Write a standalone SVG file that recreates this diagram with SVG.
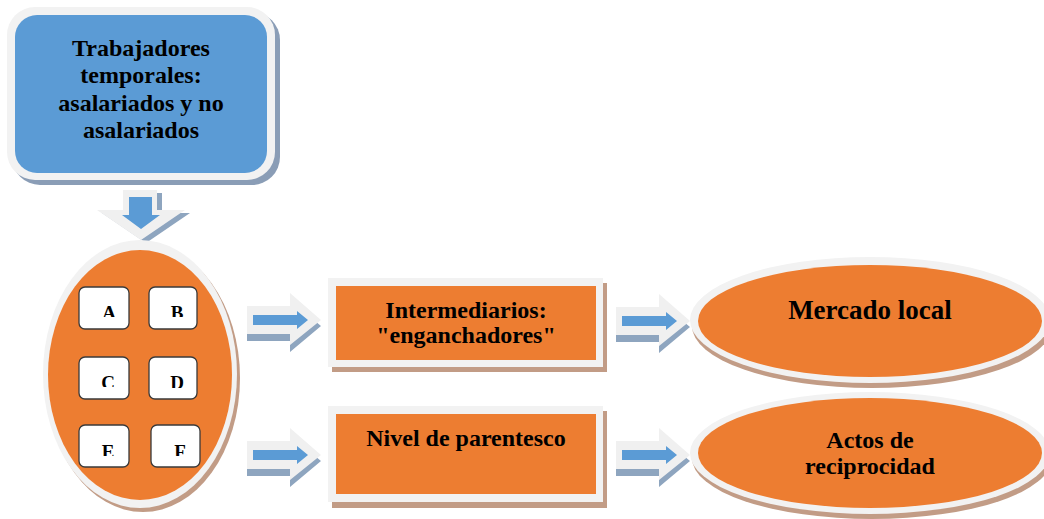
<svg xmlns="http://www.w3.org/2000/svg" width="1044" height="519" viewBox="0 0 1044 519">
<style>
.t{font-family:"Liberation Serif","Times New Roman",serif;font-weight:bold;fill:#000;text-anchor:middle}
.rim{fill:#f2f2f2}
.sb{fill:#8a9db6}
.so{fill:#c29c86}
.blue{fill:#5b9bd5}
.or{fill:#ed7d31}
.sq{fill:#fff;stroke:#3a3a3a;stroke-width:1.3}
.ar{fill:#5b9bd5}
.aw{fill:#f0f0f0}
.as{fill:#8ea5bf}
</style>
<defs>
<g id="rarrow">
<polygon class="as" points="0,-7 43,-7 43,-20 74,6 43,32 43,21 0,21"/>
<polygon class="aw" points="0,-14 43,-14 43,-27 74,0 43,25 43,14 0,14"/>
<polygon class="ar" points="6,-5 50,-5 50,-9 61,0 50,9 50,5 6,5"/>
</g>
<clipPath id="cA"><rect x="79" y="287" width="50" height="30"/></clipPath>
<clipPath id="cB"><rect x="149" y="287" width="48" height="30"/></clipPath>
<clipPath id="cC"><rect x="79" y="357" width="50" height="30"/></clipPath>
<clipPath id="cD"><rect x="149" y="357" width="48" height="31"/></clipPath>
<clipPath id="cE"><rect x="79" y="425" width="50" height="31"/></clipPath>
<clipPath id="cF"><rect x="151" y="425" width="49" height="31"/></clipPath>
</defs>

<g id="connectors">
<g id="arrow-down">
<polygon class="as" points="128,193 162,193 162,213 190,213 146,243 102,213 128,213"/>
<polygon class="aw" points="123,190 157,190 157,210 185,210 141,240 97,210 123,210"/>
<polygon class="ar" points="129,197 152,197 152,215 160,215 141,229 122,215 129,215"/>
</g>
<use href="#rarrow" x="247" y="320"/>
<use href="#rarrow" x="616" y="321"/>
<use href="#rarrow" x="247" y="455"/>
<use href="#rarrow" x="616" y="455"/>
</g>

<g id="node-trabajadores">
<rect class="sb" x="12" y="12" width="268" height="173" rx="28"/>
<rect class="rim" x="7" y="7" width="268" height="173" rx="28"/>
<rect class="blue" x="15" y="15" width="252" height="158" rx="22"/>
<text class="t" font-size="24" x="141" y="56">Trabajadores</text>
<text class="t" font-size="24" x="141" y="83">temporales:</text>
<text class="t" font-size="24" x="141" y="111">asalariados y no</text>
<text class="t" font-size="24" x="141" y="138">asalariados</text>
</g>

<g id="node-grupos">
<ellipse class="so" cx="143" cy="378" rx="97" ry="134"/>
<ellipse class="rim" cx="140" cy="374" rx="97" ry="134"/>
<ellipse class="or" cx="140" cy="375" rx="92" ry="125"/>
<rect class="sq" x="79" y="287" width="50" height="42" rx="6"/>
<rect class="sq" x="149" y="287" width="48" height="42" rx="6"/>
<rect class="sq" x="79" y="357" width="50" height="42" rx="6"/>
<rect class="sq" x="149" y="357" width="48" height="42" rx="6"/>
<rect class="sq" x="79" y="425" width="50" height="42" rx="6"/>
<rect class="sq" x="151" y="425" width="49" height="42" rx="6"/>
<text class="t" font-size="19" x="109" y="319" clip-path="url(#cA)">A</text>
<text class="t" font-size="19" x="177" y="319" clip-path="url(#cB)">B</text>
<text class="t" font-size="19" x="108" y="389" clip-path="url(#cC)">C</text>
<text class="t" font-size="19" x="177" y="389" clip-path="url(#cD)">D</text>
<text class="t" font-size="19" x="108" y="458" clip-path="url(#cE)">E</text>
<text class="t" font-size="19" x="180" y="458" clip-path="url(#cF)">F</text>
</g>

<g id="node-intermediarios">
<rect class="so" x="332" y="283" width="275" height="89"/>
<rect class="rim" x="328" y="278" width="275" height="89"/>
<rect class="or" x="336" y="286" width="260" height="74"/>
<text class="t" font-size="24" x="466" y="318">Intermediarios:</text>
<text class="t" font-size="24" x="466" y="343">"enganchadores"</text>
</g>

<g id="node-parentesco">
<rect class="so" x="332" y="411" width="275" height="97"/>
<rect class="rim" x="328" y="406" width="275" height="96"/>
<rect class="or" x="336" y="414" width="260" height="80"/>
<text class="t" font-size="24" x="466" y="446">Nivel de parentesco</text>
</g>

<g id="node-mercado">
<ellipse class="so" cx="872" cy="326" rx="180" ry="62"/>
<ellipse class="rim" cx="870" cy="320" rx="180" ry="63"/>
<ellipse class="or" cx="870" cy="321" rx="172" ry="56"/>
<text class="t" font-size="27" x="870" y="319">Mercado local</text>
</g>

<g id="node-reciprocidad">
<ellipse class="so" cx="872" cy="458" rx="180" ry="61"/>
<ellipse class="rim" cx="870" cy="453" rx="180" ry="61"/>
<ellipse class="or" cx="870" cy="453" rx="172" ry="55"/>
<text class="t" font-size="24" x="870" y="448">Actos de</text>
<text class="t" font-size="24" x="870" y="474">reciprocidad</text>
</g>
</svg>
